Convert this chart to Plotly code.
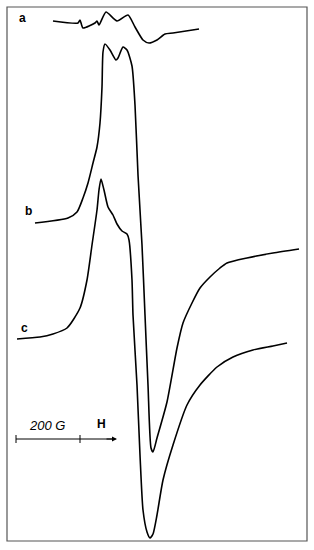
import plotly.graph_objects as go

# Trace a (field position, signal) - picture units
a_x = [53, 78, 80, 83, 95, 97, 99, 106, 117, 128, 135, 143, 149, 157, 165, 173, 199]
a_y = [21, 23, 20, 28, 23, 21, 25, 12, 21, 15, 27, 40, 43, 40, 34, 33, 29]

b_x = [35, 68, 77, 83, 88, 93, 97, 100, 102, 103, 105, 110, 116, 118, 123, 127, 132, 135, 138, 142,
       145, 148, 151, 153, 157, 167, 177, 183, 192, 200, 210, 220, 227, 247, 273, 299]
b_y = [223, 218, 212, 198, 183, 163, 147, 123, 87, 52, 44, 50, 60, 58, 47, 50, 66, 105, 175, 245,
       315, 385, 448, 452, 438, 402, 348, 323, 303, 288, 277, 268, 263, 258, 253, 249]

c_x = [17, 40, 53, 67, 80, 87, 92, 97, 99, 101, 104, 108, 113, 117, 122, 127, 129, 132, 133,
       137, 140, 143, 147, 150, 153, 157, 163, 173, 187, 200, 217, 233, 253, 273, 287]
c_y = [339, 337, 334, 328, 308, 280, 245, 210, 190, 179, 190, 207, 215, 224, 231, 234, 240, 280, 315,
       385, 455, 510, 532, 538, 534, 515, 480, 445, 405, 385, 367, 357, 350, 346, 343]

labels = ["a", "b", "c"]
label_pos = [(22, 18), (28, 211), (24, 328)]

fig = go.Figure()
for xs, ys in [(a_x, a_y), (b_x, b_y), (c_x, c_y)]:
    fig.add_trace(go.Scatter(x=xs, y=ys, mode="lines",
                             line=dict(color="black", width=1.6, shape="spline", smoothing=0.6),
                             hoverinfo="skip", showlegend=False))

# frame
fig.add_shape(type="rect", x0=7, y0=7, x1=307, y1=541, line=dict(color="#555", width=1.2))

for lab, (lx, ly) in zip(labels, label_pos):
    fig.add_annotation(x=lx, y=ly, text="<b>" + lab + "</b>", showarrow=False,
                       font=dict(family="Liberation Sans, Arial", size=12, color="black"))

# scale bar
fig.add_shape(type="line", x0=16, y0=439, x1=112, y1=439, line=dict(color="black", width=1))
fig.add_shape(type="line", x0=16, y0=435, x1=16, y1=443, line=dict(color="black", width=1))
fig.add_shape(type="line", x0=80, y0=435, x1=80, y1=443, line=dict(color="black", width=1))
fig.add_annotation(x=117, y=439, ax=105, ay=439, xref="x", yref="y", axref="x", ayref="y",
                   text="", showarrow=True, arrowhead=2, arrowsize=1, arrowwidth=1, arrowcolor="black")
fig.add_annotation(x=47, y=425, text="<i>200 G</i>", showarrow=False,
                   font=dict(family="Liberation Sans, Arial", size=13, color="black"))
fig.add_annotation(x=101, y=424, text="<b>H</b>", showarrow=False,
                   font=dict(family="Liberation Sans, Arial", size=12, color="black"))

fig.update_layout(width=314, height=550, margin=dict(l=0, r=0, t=0, b=0),
                  paper_bgcolor="white", plot_bgcolor="white")
fig.update_xaxes(range=[0, 314], visible=False)
fig.update_yaxes(range=[550, 0], visible=False)
fig.write_html("out.html", config={"displayModeBar": False, "staticPlot": True})

with open("out.html", "r", encoding="utf-8") as f:
    html = f.read()
html = html.replace("<body>", '<body style="margin:0;padding:0;overflow:hidden">', 1)
with open("out.html", "w", encoding="utf-8") as f:
    f.write(html)
